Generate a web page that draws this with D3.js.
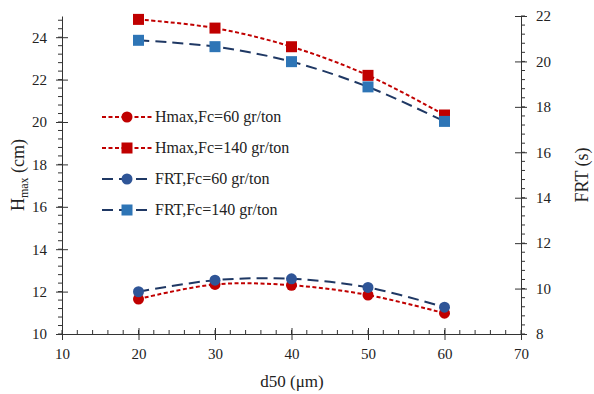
<!DOCTYPE html>
<html>
<head>
<meta charset="utf-8">
<script src="https://cdn.jsdelivr.net/npm/d3@7"></script>
<style>
  body { margin: 0; background: #fff; }
</style>
</head>
<body>
<svg id="chart" width="594" height="394"></svg>
<script>
const d50 = [20, 30, 40, 50, 60];
const hmax60 = [11.65, 12.34, 12.3, 11.84, 10.98];
const hmax140 = [24.84, 24.43, 23.55, 22.2, 20.33];
const frt60 = [9.86, 10.37, 10.43, 10.05, 9.18];
const frt140 = [20.93, 20.65, 19.99, 18.88, 17.36];

const xTicks = [10, 20, 30, 40, 50, 60, 70];
const leftTicks = [10, 12, 14, 16, 18, 20, 22, 24];
const rightTicks = [8, 10, 12, 14, 16, 18, 20, 22];

const margin = { top: 16, right: 73, bottom: 60, left: 62 };
const W = 594, H = 394;
const FONT = 'Liberation Serif';

const svg = d3.select('#chart');

const x = d3.scaleLinear().domain([10, 70]).range([margin.left, W - margin.right]);
const yL = d3.scaleLinear().domain([10, 25]).range([H - margin.bottom, margin.top]);
const yR = d3.scaleLinear().domain([8, 22]).range([H - margin.bottom, margin.top]);

// minor ticks first
const minorX = d3.range(10, 70.01, 2);
const minorL = d3.range(10, 25.01, 0.4);
const minorR = d3.range(8, 22.01, 0.4);

const axisColor = '#333';

svg.append('g')
  .selectAll('line').data(minorX).join('line')
  .attr('x1', d => x(d)).attr('x2', d => x(d))
  .attr('y1', yL(10) - 4).attr('y2', yL(10))
  .attr('stroke', axisColor);

svg.append('g')
  .selectAll('line').data(minorL).join('line')
  .attr('x1', margin.left - 4).attr('x2', margin.left)
  .attr('y1', d => yL(d)).attr('y2', d => yL(d))
  .attr('stroke', axisColor);

svg.append('g')
  .selectAll('line').data(minorR).join('line')
  .attr('x1', W - margin.right).attr('x2', W - margin.right + 4)
  .attr('y1', d => yR(d)).attr('y2', d => yR(d))
  .attr('stroke', axisColor);

const styleAxis = g => {
  g.select('.domain').attr('stroke', axisColor);
  g.selectAll('.tick line').attr('stroke', axisColor);
  g.selectAll('.tick text')
    .style('font-family', FONT)
    .style('font-size', '15px')
    .attr('fill', '#222');
};

svg.append('g')
  .attr('transform', `translate(0,${H - margin.bottom})`)
  .call(d3.axisBottom(x).tickValues(xTicks).tickSize(6).tickSizeOuter(0).tickPadding(8))
  .call(styleAxis)
  .call(g => g.selectAll('.tick line').attr('y1', -6));

svg.append('g')
  .attr('transform', `translate(${margin.left},0)`)
  .call(d3.axisLeft(yL).tickValues(leftTicks).tickSize(6).tickSizeOuter(0).tickPadding(9))
  .call(styleAxis)
  .call(g => g.selectAll('.tick line').attr('x1', 6));

svg.append('g')
  .attr('transform', `translate(${W - margin.right},0)`)
  .call(d3.axisRight(yR).tickValues(rightTicks).tickSize(6).tickSizeOuter(0).tickPadding(9))
  .call(styleAxis)
  .call(g => g.selectAll('.tick line').attr('x1', -6));

// series
const series = [
  { name: 'Hmax,Fc=60 gr/ton', vals: hmax60, y: yL, line: '#C00000', dash: '4,2.5', marker: 'circle', fill: '#C00000' },
  { name: 'Hmax,Fc=140 gr/ton', vals: hmax140, y: yL, line: '#C00000', dash: '4,2.5', marker: 'square', fill: '#C00000' },
  { name: 'FRT,Fc=60 gr/ton', vals: frt60, y: yR, line: '#1F3864', dash: '11,6', marker: 'circle', fill: '#2F5597' },
  { name: 'FRT,Fc=140 gr/ton', vals: frt140, y: yR, line: '#1F3864', dash: '11,6', marker: 'square', fill: '#2E75B6' }
];

const drawMarker = (g, s, cx, cy) => {
  if (s.marker === 'circle') {
    g.append('circle').attr('cx', cx).attr('cy', cy).attr('r', 5.5).attr('fill', s.fill);
  } else {
    g.append('rect').attr('x', cx - 5.5).attr('y', cy - 5.5).attr('width', 11).attr('height', 11).attr('fill', s.fill);
  }
};

series.forEach(s => {
  const pts = d50.map((d, i) => [x(d), s.y(s.vals[i])]);
  svg.append('path')
    .attr('d', d3.line().curve(d3.curveCatmullRom.alpha(0.5))(pts))
    .attr('fill', 'none')
    .attr('stroke', s.line)
    .attr('stroke-width', 2)
    .attr('stroke-dasharray', s.dash);
  const g = svg.append('g');
  pts.forEach(p => drawMarker(g, s, p[0], p[1]));
});

// legend
const legend = svg.append('g');
series.forEach((s, i) => {
  const ly = 117 + i * 31;
  legend.append('line')
    .attr('x1', 102).attr('x2', 152).attr('y1', ly).attr('y2', ly)
    .attr('stroke', s.line).attr('stroke-width', 2).attr('stroke-dasharray', s.dash);
  drawMarker(legend, s, 127, ly);
  legend.append('text')
    .attr('x', 155).attr('y', ly + 5)
    .style('font-family', FONT)
    .style('font-size', '16px')
    .attr('fill', '#222')
    .text(s.name);
});

// axis titles
svg.append('text')
  .attr('x', 292).attr('y', 387)
  .attr('text-anchor', 'middle')
  .style('font-family', FONT)
  .style('font-size', '17px')
  .attr('fill', '#222')
  .text('d50 (μm)');

const yt = svg.append('text')
  .attr('transform', 'translate(24,175) rotate(-90)')
  .attr('text-anchor', 'middle')
  .style('font-family', FONT)
  .style('font-size', '18px')
  .attr('fill', '#222');
yt.append('tspan').text('H');
yt.append('tspan').attr('dy', 4).style('font-size', '12px').text('max');
yt.append('tspan').attr('dy', -4).text(' (cm)');

svg.append('text')
  .attr('transform', 'translate(588,175) rotate(-90)')
  .attr('text-anchor', 'middle')
  .style('font-family', FONT)
  .style('font-size', '18px')
  .attr('fill', '#222')
  .text('FRT (s)');
</script>
</body>
</html>
